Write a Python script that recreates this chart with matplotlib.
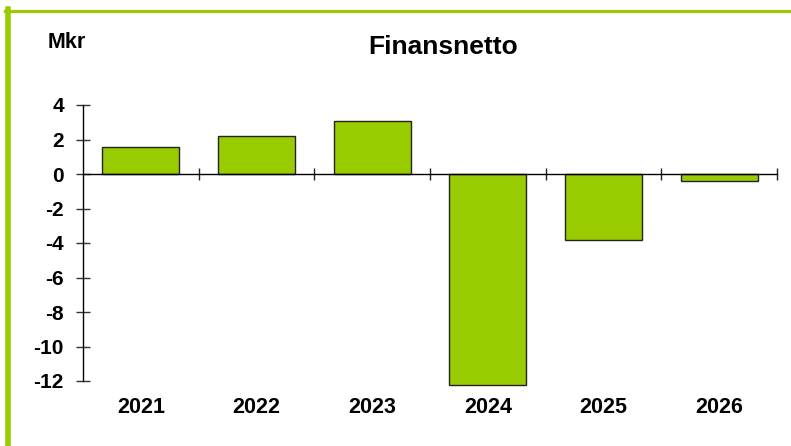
import matplotlib.pyplot as plt
from matplotlib.lines import Line2D
from matplotlib.transforms import blended_transform_factory

years = ['2021', '2022', '2023', '2024', '2025', '2026']
finansnetto = [1.58, 2.18, 3.07, -12.25, -3.84, -0.42]
yticks = [4, 2, 0, -2, -4, -6, -8, -10, -12]

green = '#99cc00'
plt.rcParams['font.family'] = ['Liberation Sans', 'DejaVu Sans']
plt.rcParams['font.weight'] = 'bold'

fig = plt.figure(figsize=(7.91, 4.46), dpi=100)
ax = fig.add_axes([83 / 791, (446 - 381) / 446, (777 - 83) / 791, (381 - 105) / 446])

x = list(range(len(years)))
ax.bar(x, finansnetto, width=0.667, color=green, edgecolor='#222222', linewidth=1.0,
       clip_on=False, zorder=2)

ax.set_xlim(-0.5, len(years) - 0.5)
ax.set_ylim(-12, 4)
ax.set_yticks(yticks)
ax.set_yticklabels([str(t) for t in yticks], fontsize=15, fontweight='bold')
ax.tick_params(axis='y', direction='inout', length=9.5, width=1, pad=9, color='#333333')

ax.spines['top'].set_visible(False)
ax.spines['right'].set_visible(False)
ax.spines['bottom'].set_position(('data', 0))
ax.spines['left'].set_linewidth(1)
ax.spines['bottom'].set_linewidth(1)
ax.set_xticks([i + 0.5 for i in x])
ax.set_xticklabels([])
ax.tick_params(axis='x', direction='inout', length=9, width=1, color='#222222')

# year labels under the plot area
trans = blended_transform_factory(ax.transData, ax.transAxes)
for i, y in zip(x, years):
    ax.text(i, -0.097, y, transform=trans, ha='center', va='center',
            fontsize=15.5, fontweight='bold')

fig.text(443 / 791, 1 - 47 / 446, 'Finansnetto', ha='center', va='center',
         fontsize=19, fontweight='bold')
fig.text(67 / 791, 1 - 43 / 446, 'Mkr', ha='center', va='center',
         fontsize=15.5, fontweight='bold')

# green frame lines, top and left
fig.add_artist(Line2D([5 / 791, 1], [1 - 11 / 446, 1 - 11 / 446], color=green, linewidth=2.3,
                      transform=fig.transFigure))
fig.add_artist(Line2D([8 / 791, 8 / 791], [0, 1 - 9 / 446], color=green, linewidth=4,
                      transform=fig.transFigure))

fig.savefig('out.png', dpi=100)
